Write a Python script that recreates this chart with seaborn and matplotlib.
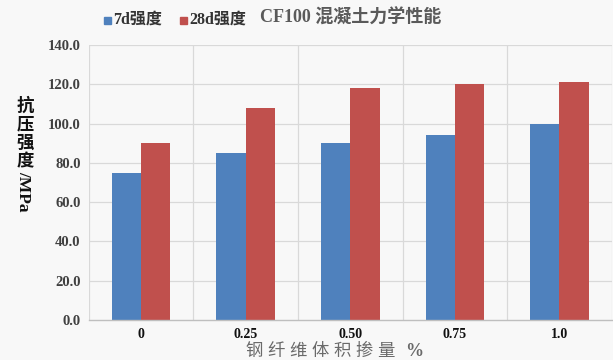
import matplotlib
matplotlib.use("Agg")
import matplotlib.pyplot as plt
import seaborn as sns
import pandas as pd
from matplotlib.patches import Rectangle

# Fibre dosage categories and compressive strengths (MPa)
dosages = ["0", "0.25", "0.50", "0.75", "1.0"]
strength_7d = [75.0, 85.0, 90.0, 94.0, 100.0]
strength_28d = [90.0, 108.0, 118.0, 120.0, 121.0]
series_names = ["7d强度", "28d强度"]
y_ticks = [0, 20, 40, 60, 80, 100, 120, 140]
x_title = "钢纤维体积掺量"
y_title = "抗压强度"

colors = ["#4f81bd", "#c0504d"]

df = pd.DataFrame({
    "dosage": dosages * 2,
    "strength": strength_7d + strength_28d,
    "series": [series_names[0]] * len(dosages) + [series_names[1]] * len(dosages),
})

sns.set_theme(style="white")
plt.rcParams["font.family"] = ["Liberation Serif", "Noto Sans CJK SC"]

W, H = 613, 360
fig = plt.figure(figsize=(W / 100, H / 100), dpi=100, facecolor="#f8f8f8")
ax = fig.add_axes([0.145, 0.111, 0.853, 0.764])
ax.set_facecolor("#f8f8f8")

sns.barplot(data=df, x="dosage", y="strength", hue="series", order=dosages,
            hue_order=series_names, palette=colors, width=0.56,
            saturation=1, legend=False, ax=ax, edgecolor="none")

ax.set_ylim(0, 140)
ax.set_xlim(-0.5, len(dosages) - 0.5)
ax.set_yticks(y_ticks)
ax.set_yticklabels([f"{v:.1f}" for v in y_ticks], fontweight="bold",
                   fontsize=10.5, color="#404040")
ax.set_xticks(range(len(dosages)))
ax.set_xticklabels(dosages, fontweight="bold", fontsize=10, color="#111111")
ax.tick_params(axis="both", length=0, pad=6)

# Grid: horizontal at each tick, vertical at category boundaries
for v in y_ticks[1:]:
    ax.axhline(v, color="#d9d9d9", lw=0.9, zorder=0)
for b in range(len(dosages) + 1):
    ax.axvline(b - 0.5, color="#d9d9d9", lw=0.9, zorder=0)
for s in ["top", "right", "left"]:
    ax.spines[s].set_visible(False)
ax.spines["bottom"].set_color("#bfbfbf")
ax.spines["bottom"].set_linewidth(1.0)

ax.set_xlabel("")
ax.set_ylabel("")


def px(x, y):
    """Pixel position (from top-left) to figure fraction."""
    return x / W, 1 - y / H


# X axis title, letter-spaced
for i, ch in enumerate(x_title):
    fig.text(*px(254 + 22 * i, 351), ch, ha="center", va="center",
             fontsize=12.5, color="#6a6a6a", family=["Noto Sans CJK SC"])
fig.text(*px(414, 351), "%", ha="center", va="center",
         fontsize=13, fontweight="bold", color="#6a6a6a",
         family=["Liberation Serif"])

# Y axis title: upright stacked characters, unit rotated
for ch, yy in zip(y_title, [106, 124.5, 143, 161.5]):
    fig.text(*px(25, yy), ch, ha="center", va="center", fontsize=12.5,
             fontweight="bold", color="#111111", family=["Noto Sans CJK SC"])
fig.text(*px(23, 191), "/MPa", ha="center", va="center", rotation=-90,
         fontsize=12.5, fontweight="bold", color="#111111",
         family=["Liberation Serif"])

# Title
fig.text(*px(351, 18), "CF100 混凝土力学性能", ha="center", va="center",
         fontsize=13, fontweight="bold", color="#5a5a5a")

# Legend
for i, (sx, name) in enumerate(zip([104, 180], series_names)):
    x0, y0 = px(sx, 24)
    fig.patches.append(Rectangle((x0, y0), 7 / W, 7 / H,
                                 transform=fig.transFigure, color=colors[i]))
    fig.text(*px(sx + 9, 20), name, ha="left", va="center",
             fontsize=11.5, fontweight="bold", color="#333333")

fig.savefig("out.png", dpi=100, facecolor=fig.get_facecolor())
